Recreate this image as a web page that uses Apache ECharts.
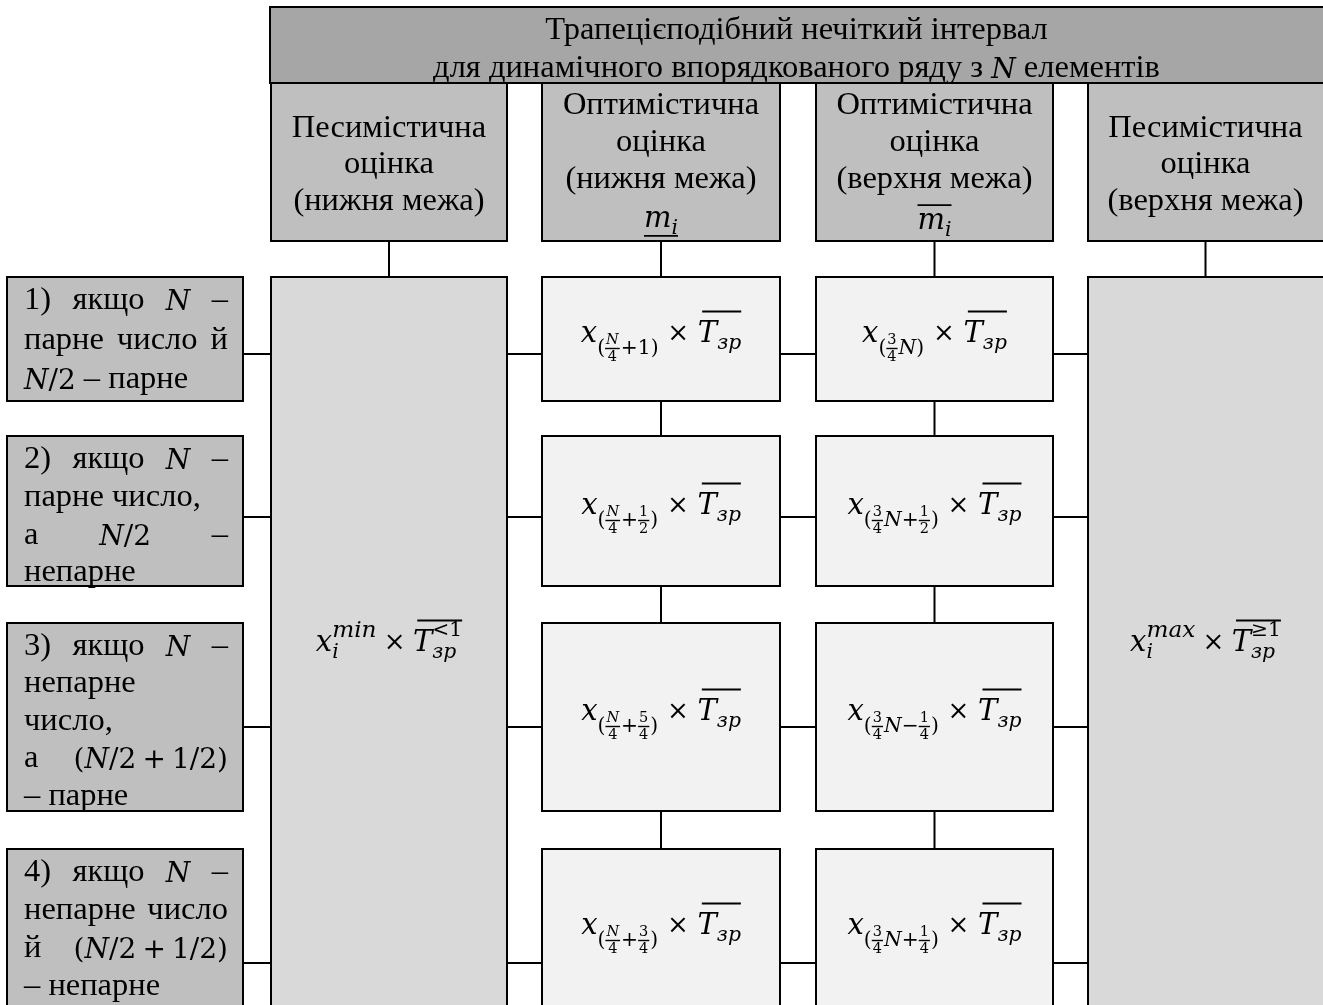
<!DOCTYPE html>
<html><head><meta charset="utf-8">
<script src="https://cdn.jsdelivr.net/npm/echarts@6/dist/echarts.min.js"></script>
<style>html,body{margin:0;padding:0;background:#fff}#c{width:1323px;height:1005px}</style>
</head><body><div id="c"></div>
<script>
// ================= DATA =================
const titleLines = ['Трапецієподібний нечіткий інтервал', 'для динамічного впорядкованого ряду з {N} елементів'];
const headerLabels = [
  ['Песимістична', 'оцінка', '(нижня межа)'],
  ['Оптимістична', 'оцінка', '(нижня межа)'],
  ['Оптимістична', 'оцінка', '(верхня межа)'],
  ['Песимістична', 'оцінка', '(верхня межа)']
];
const headerMarks = [null, 'under', 'over', null];   // m_i with under / over bar
const conditionLines = [
  ['1) якщо {N} –', 'парне число й', '{N/2} – парне'],
  ['2) якщо {N} –', 'парне число,', 'а {N/2} –', 'непарне'],
  ['3) якщо {N} –', 'непарне', 'число,', 'а {(N/2 + 1/2)}', '– парне'],
  ['4) якщо {N} –', 'непарне число', 'й {(N/2 + 1/2)}', '– непарне']
];
const conditionJustify = [[1, 1, 0], [1, 0, 1, 0], [1, 0, 0, 1, 0], [1, 1, 1, 0]];
const lowerIndex = ['N/4+1', 'N/4+1/2', 'N/4+5/4', 'N/4+3/4'];
const upperIndex = ['3/4N', '3/4N+1/2', '3/4N−1/4', '3/4N+1/4'];
const extremeSup = ['min', 'max'];
const extremeTSup = ['<1', '≥1'];

// ================= LAYOUT (diagram units) =================
const L = {
  W: 1323, H: 1005,
  title: [270, 7, 1327, 83],
  colX: [[271, 507], [542, 780], [816, 1053], [1088, 1323]],
  headerY: [83, 241],
  condX: [7, 243],
  rowsY: [[277, 401], [436, 586], [623, 811], [849, 1013]],
  linkY: [354, 517, 727, 963],
  titleLineY: [30, 68],
  headerLineY: [[128, 164.5, 201], [105, 142, 179], [105, 142, 179], [128, 164.5, 201]],
  markY: [0, 219, 221, 0],
  condLineY: [[300, 340, 379], [459, 497, 535, 572], [646, 683.5, 721, 758.5, 796], [872, 910, 948, 986]],
  fontSize: 32.5,
  inlineMath: 28,
  inlineMathDy: 2.5,
  mathSize: 29
};
const COL = { title: '#a6a6a6', head: '#bfbfbf', big: '#d9d9d9', mid: '#f2f2f2' };

// ================= text / math layout helpers =================
const SERIF = '"Liberation Serif","Times New Roman",serif';
const MATH = '"DejaVu Serif",serif';
const mctx = document.createElement('canvas').getContext('2d');
function fnt(size, it, fam) { return (it ? 'italic ' : '') + size.toFixed(1) + 'px ' + (fam || SERIF); }
function meas(s, size, it, fam) { mctx.font = fnt(size, it, fam); return mctx.measureText(s).width; }
function T(s, size, it, dy, fam) { const w = meas(s, size, it, fam); return { w, draw(x, y, out) { out.push({ kind: 'text', x, y: y + (dy || 0), s, size, it, fam }); } }; }
function M(s, size, it, dy) { return T(s, size, it, dy, MATH); }
function H(items) { const w = items.reduce((a, b) => a + b.w, 0); return { w, draw(x, y, out) { let cx = x; items.forEach(b => { b.draw(cx, y, out); cx += b.w; }); } }; }
function G(w) { return { w, draw() {} }; }
function stack(a, b) { const w = Math.max(a.w, b.w); return { w, draw(x, y, out) { a.draw(x, y, out); b.draw(x, y, out); } }; }
function frac(n, d, size, dy) {
  const ni = /[A-Za-z]/.test(n), wn = meas(n, size, ni, MATH), wd = meas(d, size, false, MATH), w = Math.max(wn, wd) + 2;
  return { w: w + 1, draw(x, y, out) {
    const by = y + dy;
    out.push({ kind: 'text', x: x + (w - wn) / 2, y: by - size * 0.55, s: n, size, it: ni, fam: MATH });
    out.push({ kind: 'text', x: x + (w - wd) / 2, y: by + size * 0.62, s: d, size, it: false, fam: MATH });
    out.push({ kind: 'line', x0: x, y0: by, x1: x + w, y1: by, lw: 1.4 });
  } };
}
function bar(inner, off, lw, pad) { return { w: inner.w, draw(x, y, out) { inner.draw(x, y, out); out.push({ kind: 'line', x0: x + (pad || 0), y0: y + off, x1: x + inner.w, y1: y + off, lw: lw || 2 }); } }; }
function mathRun(str, size, dy) {
  return H(Array.from(str).map(ch => /[A-Za-z]/.test(ch) ? M(ch, size, true, dy) : (ch === ' ' ? G(size * 0.22) : M(ch, size, false, dy))));
}
function splitWords(line) {
  const words = []; let cur = '', depth = 0;
  for (const ch of line) {
    if (ch === '{') depth++;
    if (ch === '}') depth--;
    if (ch === ' ' && depth === 0) { if (cur) words.push(cur); cur = ''; } else cur += ch;
  }
  if (cur) words.push(cur);
  return words;
}
function wordBox(word, size, msize) {
  const items = []; const re = /\{([^}]*)\}|([^{]+)/g; let m;
  while ((m = re.exec(word))) { if (m[1] !== undefined) items.push(mathRun(m[1], msize, L.inlineMathDy)); else items.push(T(m[2], size, false)); }
  return H(items);
}
function lineBox(line, size, msize) {
  const ws = splitWords(line).map(w => wordBox(w, size, msize)); const sp = meas(' ', size, false); const items = [];
  ws.forEach((b, i) => { if (i) items.push(G(sp)); items.push(b); });
  return H(items);
}
function justified(line, size, msize, x0, x1, y, out) {
  const ws = splitWords(line).map(w => wordBox(w, size, msize));
  const tot = ws.reduce((a, b) => a + b.w, 0);
  const gap = ws.length > 1 ? (x1 - x0 - tot) / (ws.length - 1) : 0;
  let x = x0; ws.forEach(b => { b.draw(x, y, out); x += b.w + gap; });
}
function idxFormula(str, S) {
  const s1 = S * 0.7, s2 = S * 0.5, dy = S * 0.5;
  const items = [M('(', s1, false, dy)]; const re = /([A-Za-z0-9])\/([0-9])|(.)/g; let m;
  while ((m = re.exec(str))) {
    if (m[1]) items.push(frac(m[1], m[2], s2, dy));
    else items.push(M(m[3], s1, /[A-Za-z]/.test(m[3]), dy));
  }
  items.push(M(')', s1, false, dy));
  return H(items);
}
function tBar(S, tsup) {
  const s1 = S * 0.7;
  const sub = M('зр', s1, true, S * 0.32);
  const inner = H([M('T', S, true), tsup ? stack(sub, M(tsup, s1, false, -S * 0.42)) : sub]);
  return bar(inner, -S * 0.78, 2, S * 0.15);
}
function midFormula(str, S) { return H([M('x', S, true), idxFormula(str, S), G(S * 0.3), M('×', S * 0.9, false), G(S * 0.3), tBar(S)]); }
function extFormula(sup, tsup, S) {
  return H([M('x', S, true), stack(M('i', S * 0.7, true, S * 0.32), M(sup, S * 0.8, true, -S * 0.42)), G(S * 0.25), M('×', S * 0.9, false), G(S * 0.25), tBar(S, tsup)]);
}
function mMark(kind, S) {
  const inner = H([M('m', S, true), M('i', S * 0.7, true, S * 0.32)]);
  return bar(inner, kind === 'under' ? S * 0.58 : -S * 0.55, 1.8);
}

// ================= build primitives =================
const rects = [], links = [], texts = [];
const cx = c => (L.colX[c][0] + L.colX[c][1]) / 2;
const edge = x => (x >= L.W ? x + 4 : x);
rects.push({ x0: L.title[0], y0: L.title[1], x1: L.title[2], y1: L.title[3], fill: COL.title });
headerLabels.forEach((h, c) => rects.push({ x0: L.colX[c][0], y0: L.headerY[0], x1: edge(L.colX[c][1]), y1: L.headerY[1], fill: COL.head }));
[0, 3].forEach(c => rects.push({ x0: L.colX[c][0], y0: L.rowsY[0][0], x1: edge(L.colX[c][1]), y1: L.rowsY[3][1], fill: COL.big }));
conditionLines.forEach((cl, r) => {
  rects.push({ x0: L.condX[0], y0: L.rowsY[r][0], x1: L.condX[1], y1: L.rowsY[r][1], fill: COL.head });
  [1, 2].forEach(c => rects.push({ x0: L.colX[c][0], y0: L.rowsY[r][0], x1: L.colX[c][1], y1: L.rowsY[r][1], fill: COL.mid }));
});
headerLabels.forEach((h, c) => links.push({ x0: cx(c), y0: L.headerY[1], x1: cx(c), y1: L.rowsY[0][0] }));
conditionLines.forEach((cl, r) => {
  const y = L.linkY[r];
  links.push({ x0: L.condX[1], y0: y, x1: L.colX[0][0], y1: y });
  for (let c = 0; c < 3; c++) links.push({ x0: L.colX[c][1], y0: y, x1: L.colX[c + 1][0], y1: y });
  if (r < 3) [1, 2].forEach(c => links.push({ x0: cx(c), y0: L.rowsY[r][1], x1: cx(c), y1: L.rowsY[r + 1][0] }));
});
const FS = L.fontSize, IM = L.inlineMath, MS = L.mathSize;
const tcx = (L.title[0] + L.W) / 2;
titleLines.forEach((t, i) => { const b = lineBox(t, FS, IM); b.draw(tcx - b.w / 2, L.titleLineY[i], texts); });
headerLabels.forEach((lines, c) => {
  lines.forEach((t, i) => { const b = lineBox(t, FS, IM); b.draw(cx(c) - b.w / 2, L.headerLineY[c][i], texts); });
  if (headerMarks[c]) { const b = mMark(headerMarks[c], MS); b.draw(cx(c) - b.w / 2, L.markY[c], texts); }
});
conditionLines.forEach((lines, r) => {
  const x0 = L.condX[0] + 17, x1 = L.condX[1] - 15;
  lines.forEach((t, i) => {
    const y = L.condLineY[r][i];
    if (conditionJustify[r][i]) justified(t, FS, IM, x0, x1, y, texts);
    else lineBox(t, FS, IM).draw(x0, y, texts);
  });
  const ry = (L.rowsY[r][0] + Math.min(L.rowsY[r][1], L.H + 8)) / 2 - 5;
  const f1 = midFormula(lowerIndex[r], MS); f1.draw(cx(1) - f1.w / 2, ry, texts);
  const f2 = midFormula(upperIndex[r], MS); f2.draw(cx(2) - f2.w / 2, ry, texts);
});
[0, 3].forEach((c, k) => {
  const f = extFormula(extremeSup[k], extremeTSup[k], MS);
  f.draw(cx(c) - f.w / 2, 643, texts);
});
const textLines = texts.filter(t => t.kind === 'line');
const textGlyphs = texts.filter(t => t.kind === 'text');
const allLinks = links.concat(textLines);

// ================= chart =================
const chart = echarts.init(document.getElementById('c'), null, { renderer: 'canvas' });
function P(api, x, y) { return api.coord([x, y]); }
chart.setOption({
  animation: false,
  backgroundColor: '#ffffff',
  grid: { left: 0, right: 0, top: 0, bottom: 0 },
  xAxis: { type: 'value', min: 0, max: L.W, show: false },
  yAxis: { type: 'value', min: 0, max: L.H, inverse: true, show: false },
  series: [
    {
      type: 'custom', name: 'boxes', clip: false, silent: true,
      data: rects.map(r => [r.x0, r.y0, r.x1, r.y1]),
      renderItem(params, api) {
        const r = rects[params.dataIndex]; const a = P(api, r.x0, r.y0), b = P(api, r.x1, r.y1);
        return { type: 'rect', shape: { x: a[0], y: a[1], width: b[0] - a[0], height: b[1] - a[1] }, style: { fill: r.fill, stroke: '#000', lineWidth: 2 } };
      }
    },
    {
      type: 'custom', name: 'links', clip: false, silent: true,
      data: allLinks.map(l => [l.x0, l.y0, l.x1, l.y1]),
      renderItem(params, api) {
        const l = allLinks[params.dataIndex]; const a = P(api, l.x0, l.y0), b = P(api, l.x1, l.y1);
        return { type: 'line', shape: { x1: a[0], y1: a[1], x2: b[0], y2: b[1] }, style: { stroke: '#000', lineWidth: l.lw || 2 } };
      }
    },
    {
      type: 'custom', name: 'labels', clip: false, silent: true,
      data: textGlyphs.map(t => [t.x, t.y]),
      renderItem(params, api) {
        const t = textGlyphs[params.dataIndex]; const a = P(api, t.x, t.y);
        return { type: 'text', style: { text: t.s, x: a[0], y: a[1], font: fnt(t.size, t.it, t.fam), fill: '#000', align: 'left', verticalAlign: 'middle' } };
      }
    }
  ]
});
</script>
</body></html>
